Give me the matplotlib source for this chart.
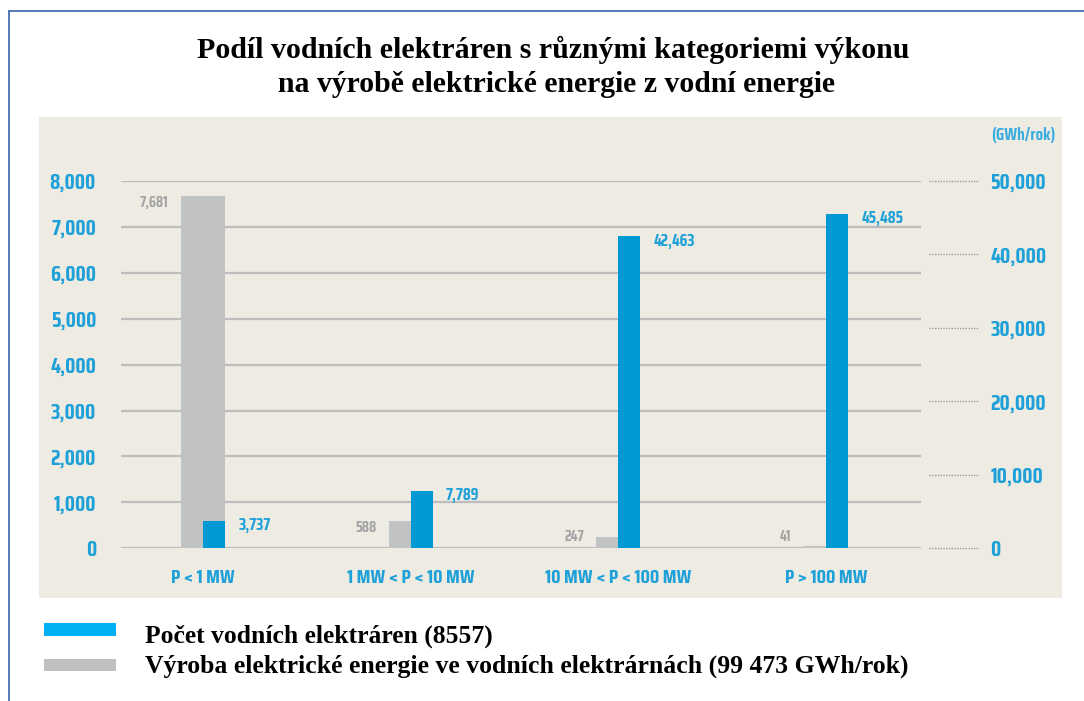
import numpy as np
import matplotlib
matplotlib.use("Agg")
import matplotlib.pyplot as plt
from matplotlib.patches import Rectangle
from matplotlib.lines import Line2D
from matplotlib.textpath import TextPath
import matplotlib.transforms as mtransforms
from matplotlib import font_manager as fm

# ---- data ----
categories = ["P < 1 MW", "1 MW < P < 10 MW", "10 MW < P < 100 MW", "P > 100 MW"]
gray_values = [7681, 588, 247, 41]          # left axis
blue_values = [3737, 7789, 42463, 45485]    # right axis (GWh/rok)
left_ticks = [0, 1000, 2000, 3000, 4000, 5000, 6000, 7000, 8000]
right_ticks = [0, 10000, 20000, 30000, 40000, 50000]
title_lines = ["Podíl vodních elektráren s různými kategoriemi výkonu",
               "na výrobě elektrické energie z vodní energie"]
legend_labels = ["Počet vodních elektráren (8557)",
                 "Výroba elektrické energie ve vodních elektrárnách (99 473 GWh/rok)"]
unit_label = "(GWh/rok)"

# ---- pick a bold sans font whose proportions are closest to the reference ----
TARGET_RATIO = 44 / 15.0   # width of "8,000" / digit height in the reference

def weight_num(f):
    if isinstance(f.weight, int):
        return f.weight
    s = str(f.weight).lower()
    return 700 if "bold" in s else 400

best = None
for f in fm.fontManager.ttflist:
    nm = f.name.lower()
    if "mono" in nm or "cjk" in nm or "serif" in nm.replace("sans serif", ""):
        continue
    fn = f.fname.lower()
    if "light" in fn or "thin" in fn:
        continue
    wt = weight_num(f)
    if wt < 650 or wt > 800:
        continue
    if str(f.style).lower() != "normal":
        continue
    try:
        p = fm.FontProperties(fname=f.fname)
        ext = TextPath((0, 0), "8,000", size=100, prop=p).get_extents()
        ext2 = TextPath((0, 0), "0", size=100, prop=p).get_extents()
        ratio = ext.width / ext2.height
    except Exception:
        continue
    score = abs(ratio - TARGET_RATIO)
    if best is None or score < best[0]:
        best = (score, f.fname)
COND_B = fm.FontProperties(fname=best[1]) if best else fm.FontProperties(family="DejaVu Sans", weight="bold")

def cp_px(text, px_height):
    """props sized so that `text` glyphs are px_height tall"""
    h = TextPath((0, 0), text, size=100, prop=COND_B).get_extents().height / 100.0
    p = COND_B.copy()
    p.set_size(px_height / h * 0.72)
    return p

# ---- style ----
W, H = 1084, 701
BLUE = "#0099D3"
GRAY = "#C1C2C4"
TICKBLUE = "#1EA0D8"
GRAYTXT = "#A3A3A3"
BEIGE = "#EEEBE3"
GRID = "#BDBDBD"
SERIF = ["Liberation Serif", "DejaVu Serif"]

def fx(x):
    return x / W

def fy(y):
    return 1 - y / H

fig = plt.figure(figsize=(W / 100, H / 100), dpi=100)
fig.patch.set_facecolor("white")

# border lines (top and left)
fig.add_artist(Line2D([fx(9), 1.0], [fy(10.7), fy(10.7)], color="#4A70B5", lw=1.3))
fig.add_artist(Line2D([fx(9), fx(9)], [fy(10.7), 0.0], color="#4A70B5", lw=1.3))

# beige panel
fig.add_artist(Rectangle((fx(39), fy(598)), (1062 - 39) / W, (598 - 117) / H,
                         transform=fig.transFigure, facecolor=BEIGE, edgecolor="none", zorder=0))

# axes
ax = fig.add_axes([fx(121), fy(548.3), 800 / W, (548.3 - 181) / H])
ax.patch.set_alpha(0)
ax2 = ax.twinx()
ax2.patch.set_alpha(0)

x = np.arange(len(categories))
w = 22 / 207.7
gray_widths = [2 * w, w, w, w]

gbars = ax.bar(x - w, gray_values, width=gray_widths, align="edge", color=GRAY, zorder=2)
bbars = ax2.bar(x, blue_values, width=w, align="edge", color=BLUE, zorder=2)

ax.set_xlim(-0.395, 3.457)
ax.set_ylim(0, 8000)
ax2.set_ylim(0, 50000)
ax.set_yticks(left_ticks)
ax2.set_yticks(right_ticks)
ax.yaxis.grid(True, color=GRID, lw=1.6)
ax.set_axisbelow(True)
for a in (ax, ax2):
    for s in a.spines.values():
        s.set_visible(False)
    a.tick_params(length=0)

ax.set_xticks(x)
ax.set_xticklabels(categories, fontproperties=cp_px("PMW", 13.5), color=TICKBLUE)
ax.tick_params(axis="x", pad=15)
ax.set_yticklabels([f"{v:,}" for v in left_ticks], fontproperties=cp_px("0", 15), color=TICKBLUE)
ax.tick_params(axis="y", pad=18)
ax2.set_yticklabels([f"{v:,}" for v in right_ticks], fontproperties=cp_px("0", 15), color=TICKBLUE)
ax2.tick_params(axis="y", pad=50)

# dotted right tick leaders
blend = mtransforms.blended_transform_factory(ax2.transAxes, ax2.transData)
for t in right_ticks:
    ax2.plot([1.010, 1.071], [t, t], transform=blend, ls=(0, (1, 1)), color="#9A9A9A",
             lw=1.0, clip_on=False)

# value labels
for i, v in enumerate(gray_values):
    ax.annotate(f"{v:,}", xy=(x[i] - w, max(v, 400)),
                xytext=(-9, -5), textcoords="offset points", ha="right", va="center",
                fontproperties=cp_px("0", 10.5), color=GRAYTXT)
for i, v in enumerate(blue_values):
    ax2.annotate(f"{v:,}", xy=(x[i] + w, v), xytext=(9.4, -3),
                 textcoords="offset points", ha="left", va="center",
                 fontproperties=cp_px("0", 11.5), color=TICKBLUE)

fig.text(fx(991), fy(135), unit_label, ha="left", va="center",
         fontproperties=cp_px("GW", 12), color="#3AADDF")

# titles
t1 = fig.text(fx(553.5), fy(57.5), title_lines[0], ha="center", va="baseline",
              fontfamily=SERIF, fontweight="bold", fontsize=20)
t2 = fig.text(fx(556.5), fy(92.5), title_lines[1], ha="center", va="baseline",
              fontfamily=SERIF, fontweight="bold", fontsize=20)

# legend (manual key)
fig.add_artist(Rectangle((fx(44), fy(636)), 72 / W, 13 / H, transform=fig.transFigure,
                         facecolor="#00B0F0", edgecolor="none"))
fig.add_artist(Rectangle((fx(44), fy(671)), 72 / W, 12 / H, transform=fig.transFigure,
                         facecolor="#BFBFBF", edgecolor="none"))
l1 = fig.text(fx(145), fy(643), legend_labels[0], ha="left", va="baseline",
              fontfamily=SERIF, fontweight="bold", fontsize=16)
l2 = fig.text(fx(145), fy(673), legend_labels[1], ha="left", va="baseline",
              fontfamily=SERIF, fontweight="bold", fontsize=16)

# fit text widths to the reference
fig.canvas.draw()
r = fig.canvas.get_renderer()
for t, target in [(t1, 712), (t2, 559), (l1, 349), (l2, 765)]:
    cw = t.get_window_extent(r).width
    t.set_fontsize(t.get_fontsize() * target / cw)

fig.savefig("out.png", dpi=100)
